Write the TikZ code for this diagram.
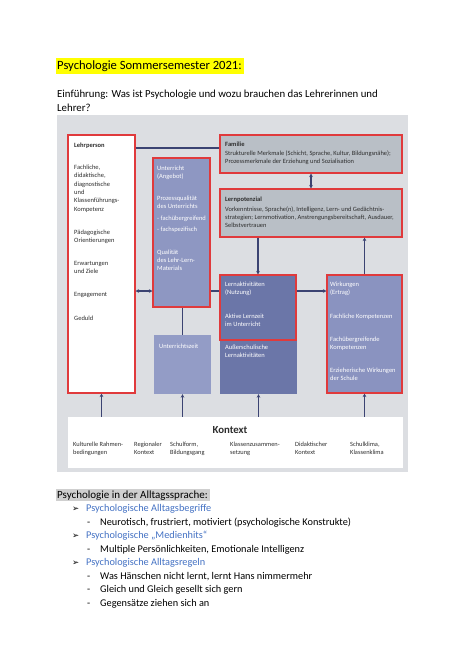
\documentclass[tikz,border=0pt]{standalone}
\usepackage{fontspec}
\setmainfont{Carlito}
\newfontfamily\symfont{DejaVu Sans}
\usetikzlibrary{arrows.meta}
\definecolor{diabg}{HTML}{DCDEE2}
\definecolor{graybox}{HTML}{B9BFC6}
\definecolor{bluebox}{HTML}{8E97C2}
\definecolor{bluezeit}{HTML}{939CC6}
\definecolor{bluewirk}{HTML}{8A93C0}
\definecolor{darkblue}{HTML}{6B76A8}
\definecolor{redline}{HTML}{E03A3C}
\definecolor{navy}{HTML}{3B4372}
\definecolor{hlyellow}{HTML}{FFFF00}
\definecolor{hlgray}{HTML}{CFCFCF}
\definecolor{accent}{HTML}{4472C4}
\definecolor{dtext}{HTML}{2E2E2E}
% multi-line nodes are placed by the baseline of their LAST line
\tikzset{
  redbox/.style={draw=redline, line width=1.1pt, inner sep=0pt},
  plainbox/.style={draw=none, inner sep=0pt},
  dtxt/.style={anchor=base west, inner sep=0pt, align=left, text=dtext, font=\fontsize{6.5}{8}\selectfont},
  wtxt/.style={dtxt, text=white},
  htxt/.style={dtxt, font=\fontsize{6.5}{8}\selectfont\bfseries},
  ftxt/.style={dtxt, font=\fontsize{6.45}{7.6}\selectfont},
  ktxt/.style={dtxt, font=\fontsize{6.4}{8.5}\selectfont},
  conn/.style={draw=navy, line width=1.1pt},
  arr/.style={conn, -{Stealth[length=3.5pt,width=3.6pt]}},
  darr/.style={conn, {Stealth[length=3.5pt,width=3.6pt]}-{Stealth[length=3.5pt,width=3.6pt]}},
  page/.style={anchor=base west, inner sep=0pt, font=\fontsize{10.3}{12}\selectfont},
  bul/.style={page, text=accent},
  arrowsym/.style={page, font=\fontsize{8.5}{10}\symfont},
}
\begin{document}
\begin{tikzpicture}[x=1pt,y=-1pt]
\useasboundingbox[fill=white] (0,0) rectangle (474,670);

% title
\fill[hlyellow] (56,58) rectangle (244,73.5);
\node[page, font=\fontsize{12.6}{15}\selectfont] (title) at (57,69.5) {Psychologie Sommersemester 2021:};
\node[page, font=\fontsize{10.8}{13}\selectfont] (intro1) at (57,97.5) {Einführung: Was ist Psychologie und wozu brauchen das Lehrerinnen und};
\node[page, font=\fontsize{10.8}{13}\selectfont] (intro2) at (57,111) {Lehrer?};

% diagram background
\fill[diabg] (57,115) rectangle (408,472);

% boxes
\node[redbox, fill=white, minimum width=67pt, minimum height=258pt] (lehr) at (101.5,264) {};
\node[redbox, fill=bluebox, minimum width=57pt, minimum height=149pt] (unt) at (181.5,232.5) {};
\node[plainbox, fill=bluezeit, minimum width=57pt, minimum height=59pt] (uzeit) at (182.5,364.5) {};
\node[redbox, fill=graybox, minimum width=182pt, minimum height=38pt] (fam) at (311,154) {};
\node[redbox, fill=graybox, minimum width=182pt, minimum height=48pt] (lpot) at (311,213) {};
\node[plainbox, fill=darkblue, minimum width=77pt, minimum height=119pt] (lernout) at (258.5,334.5) {};
\node[redbox, fill=darkblue, minimum width=76pt, minimum height=65pt] (lern) at (258,307.5) {};
\node[redbox, fill=bluewirk, minimum width=75pt, minimum height=118pt] (wirk) at (364.5,334) {};
\node[plainbox, fill=white, minimum width=335pt, minimum height=51pt] (kontext) at (235.5,442.5) {};

% connectors
\coordinate (ytop) at (0,148);
\coordinate (yrow) at (0,291);
\draw[conn] (lehr.east |- ytop) -- (fam.west |- ytop);
\draw[darr] (lehr.east |- yrow) -- (unt.west |- yrow);
\draw[conn] (unt.east |- yrow) -- (lern.west |- yrow);
\draw[arr] (lern.east |- yrow) -- (wirk.west |- yrow);
\draw[darr] (fam.south) -- (lpot.north);
\draw[arr] (lpot.south -| lern.north) -- (lern.north);
\draw[arr] (wirk.north) -- (lpot.south -| wirk.north);
\draw[conn] (unt.south -| uzeit.north) -- (uzeit.north);
\draw[arr] (kontext.north -| lehr.south) -- (lehr.south);
\draw[arr] (kontext.north -| uzeit.south) -- (uzeit.south);
\draw[arr] (kontext.north -| lernout.south) -- (lernout.south);
\draw[arr] (kontext.north -| wirk.south) -- (wirk.south);

% Lehrperson texts
\node[htxt] (t-lehr) at (74,147) {Lehrperson};
\node[dtxt, font=\fontsize{6.5}{8.3}\selectfont] (t-lehr1) at (74,211) {Fachliche,\\didaktische,\\diagnostische\\und\\Klassenführungs-\\Kompetenz};
\node[dtxt] (t-lehr2) at (74,242) {Pädagogische\\Orientierungen};
\node[dtxt] (t-lehr3) at (74,273) {Erwartungen\\und Ziele};
\node[dtxt] (t-lehr4) at (74,296) {Engagement};
\node[dtxt] (t-lehr5) at (74,320) {Geduld};

% Unterricht texts
\node[wtxt] (t-unt) at (157,178) {Unterricht\\(Angebot)};
\node[wtxt] (t-unt1) at (157,208) {Prozessqualität\\des Unterrichts};
\node[wtxt] (t-unt2) at (157,220) {- fachübergreifend};
\node[wtxt] (t-unt3) at (157,231) {- fachspezifisch};
\node[wtxt] (t-unt4) at (157,270) {Qualität\\des Lehr-Lern-\\Materials};
\node[wtxt] (t-uzeit) at (159,348) {Unterrichtszeit};

% Familie / Lernpotenzial
\node[htxt] (t-fam) at (225,146.5) {Familie};
\node[ftxt] (t-fam1) at (225,163.5) {Strukturelle Merkmale (Schicht, Sprache, Kultur, Bildungsnähe);\\Prozessmerkmale der Erziehung und Sozialisation};
\node[htxt] (t-lpot) at (225,201) {Lernpotenzial};
\node[ftxt] (t-lpot1) at (225,227) {Vorkenntnisse, Sprache(n), Intelligenz, Lern- und Gedächtnis-\\strategien; Lernmotivation, Anstrengungsbereitschaft, Ausdauer,\\Selbstvertrauen};

% Lernaktivitaeten
\node[wtxt] (t-lern) at (225,294) {Lernaktivitäten\\(Nutzung)};
\node[wtxt] (t-lern1) at (225,326) {Aktive Lernzeit\\im Unterricht};
\node[wtxt] (t-lern2) at (225,357) {Außerschulische\\Lernaktivitäten};

% Wirkungen
\node[wtxt] (t-wirk) at (330,294) {Wirkungen\\(Ertrag)};
\node[wtxt] (t-wirk1) at (330,318) {Fachliche Kompetenzen};
\node[wtxt] (t-wirk2) at (330,349) {Fachübergreifende\\Kompetenzen};
\node[wtxt] (t-wirk3) at (330,380) {Erzieherische Wirkungen\\der Schule};

% Kontext
\node[anchor=base, inner sep=0pt, text=dtext, font=\fontsize{10.8}{12}\selectfont\bfseries] (t-kon) at (230,433.5) {Kontext};
\node[ktxt] (k1) at (73,454.5) {Kulturelle Rahmen-\\bedingungen};
\node[ktxt] (k2) at (134,454.5) {Regionaler\\Kontext};
\node[ktxt] (k3) at (170,454.5) {Schulform,\\Bildungsgang};
\node[ktxt] (k4) at (230,454.5) {Klassenzusammen-\\setzung};
\node[ktxt] (k5) at (295,454.5) {Didaktischer\\Kontext};
\node[ktxt] (k6) at (350,454.5) {Schulklima,\\Klassenklima};

% lower text
\fill[hlgray] (56,489) rectangle (209.5,501);
\node[page, font=\fontsize{11}{13}\selectfont] (sub) at (57,498.5) {Psychologie in der Alltagssprache:};
\node[arrowsym] (b1) at (72,511) {➢};
\node[bul] (b1t) at (86,511) {Psychologische Alltagsbegriffe};
\node[page] (d1) at (87,525) {-};
\node[page] (d1t) at (100,525) {Neurotisch, frustriert, motiviert (psychologische Konstrukte)};
\node[arrowsym] (b2) at (72,538) {➢};
\node[bul] (b2t) at (86,538) {Psychologische „Medienhits“};
\node[page] (d2) at (87,552) {-};
\node[page] (d2t) at (100,552) {Multiple Persönlichkeiten, Emotionale Intelligenz};
\node[arrowsym] (b3) at (72,565) {➢};
\node[bul] (b3t) at (86,565) {Psychologische Alltagsregeln};
\node[page] (d3) at (87,579) {-};
\node[page] (d3t) at (100,579) {Was Hänschen nicht lernt, lernt Hans nimmermehr};
\node[page] (d4) at (87,592.5) {-};
\node[page] (d4t) at (100,592.5) {Gleich und Gleich gesellt sich gern};
\node[page] (d5) at (87,606) {-};
\node[page] (d5t) at (100,606) {Gegensätze ziehen sich an};
\end{tikzpicture}
\end{document}
